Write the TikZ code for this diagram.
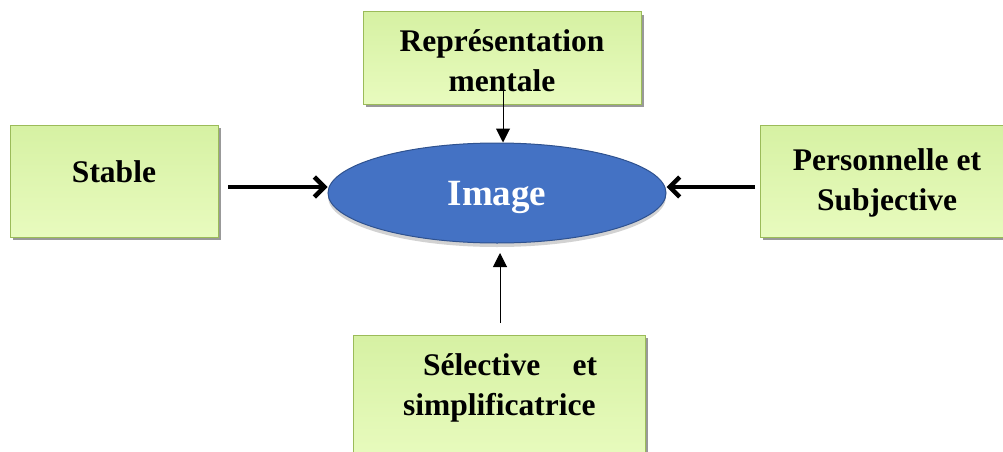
\documentclass[tikz,border=0pt]{standalone}
\usepackage{fontspec}
\setmainfont{Liberation Serif}
\usetikzlibrary{arrows.meta,shadows,shapes.geometric}
\definecolor{boxtop}{HTML}{D6F1A3}
\definecolor{boxbot}{HTML}{E8FBBE}
\definecolor{boxline}{HTML}{9BBB59}
\definecolor{ellfill}{HTML}{4472C4}
\definecolor{elline}{HTML}{2F528F}
\tikzset{
  greenbox/.style={draw=boxline, line width=1pt, top color=boxtop, bottom color=boxbot,
    drop shadow={shadow xshift=3pt, shadow yshift=-3pt, fill=gray!80, opacity=1}},
  boxtext/.style={font=\bfseries\fontsize{31.5}{40}\selectfont, align=center, inner sep=0pt},
  bigarrow/.style={line width=4.5pt, -{Straight Barb[length=10pt,width=20pt,line width=4.5pt]}},
  thinarrow/.style={line width=1pt, -{Triangle[length=14pt,width=14pt]}}
}
\begin{document}
\begin{tikzpicture}[x=1pt,y=-1pt]
\useasboundingbox (0,0) rectangle (1003,452);
% boxes
\path[greenbox] (10,125) rectangle (218,237);
\path[greenbox] (363,12) rectangle (641,104);
\path[greenbox] (760,125) rectangle (1010,237);
\path[greenbox] (353,335) rectangle (645,460);
% ellipse
\fill[gray!35] (497,197) ellipse [x radius=169, y radius=50];
\node[ellipse, draw=elline, line width=1pt, fill=ellfill, minimum width=338pt, minimum height=100pt, inner sep=0pt] (img) at (497,193) {};
\node[anchor=base, inner sep=0pt, text=white, font=\bfseries\fontsize{37}{44}\selectfont] (imgtext) at (497,205) {Image};
% texts
\node[boxtext, anchor=base] (stable) at (114,182) {Stable};
\node[boxtext, anchor=base] (rep1) at (502,52) {Représentation};
\node[boxtext, anchor=base] (rep2) at (502,92) {mentale};
\coordinate (repbox) at (503,82);
\node[boxtext, anchor=base] (pers1) at (887,170) {Personnelle et};
\node[boxtext, anchor=base] (pers2) at (887,210) {Subjective};
\node[boxtext, anchor=base west] (sel1) at (423,375) {\makebox[174pt][s]{Sélective\hfill et}};
\node[boxtext, anchor=base west] (sel2) at (403,415) {simplificatrice};
% connectors
\coordinate (s0) at (228,187);
\coordinate (p0) at (755,187);
\coordinate (b0) at (500,323);
\draw[bigarrow] (s0) -- (img.west |- s0);
\draw[bigarrow] (p0) -- (img.east |- p0);
\draw[thinarrow] (repbox) -- (img.north -| repbox);
\draw[thinarrow] (b0) -- (500,253);
\end{tikzpicture}
\end{document}
